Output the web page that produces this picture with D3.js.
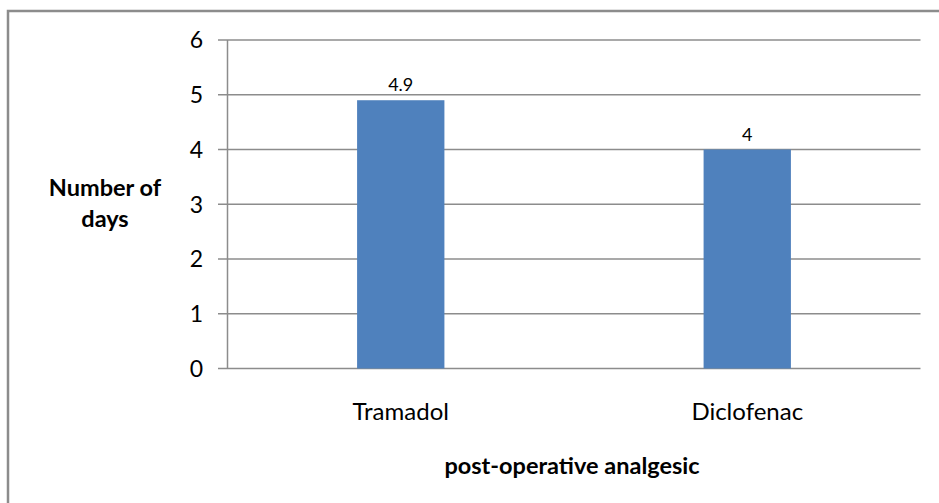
<!DOCTYPE html>
<html>
<head>
<meta charset="utf-8">
<script src="https://cdn.jsdelivr.net/npm/d3@7"></script>
<style>
  body { margin: 0; background: #fff; }
  text { font-family: Lato, "Open Sans", sans-serif; fill: #000; }
</style>
</head>
<body>
<script>
var categories = ['Tramadol', 'Diclofenac'];
var values = [4.9, 4];
var yTicks = [0, 1, 2, 3, 4, 5, 6];

var width = 939, height = 503;
var svg = d3.select('body').append('svg')
    .attr('width', width)
    .attr('height', height);

// outer frame, only top and left edges fall inside the picture
svg.append('path')
    .attr('d', 'M8,503 V11 H939')
    .attr('fill', 'none')
    .attr('stroke', '#8c8c8c')
    .attr('stroke-width', 2.5);

var x = d3.scaleBand()
    .domain(categories)
    .range([227.5, 920.5])
    .paddingInner(0.748)
    .paddingOuter(0.374);

var y = d3.scaleLinear()
    .domain([0, 6])
    .range([368.5, 40]);

// gridlines (with the little tick stubs on the left)
svg.append('g')
    .selectAll('line')
    .data(yTicks)
    .enter()
        .append('line')
        .attr('x1', 218)
        .attr('x2', 920.5)
        .attr('y1', function(d) { return y(d); })
        .attr('y2', function(d) { return y(d); })
        .attr('stroke', '#8c8c8c')
        .attr('stroke-width', 1.5);

// bars
svg.append('g')
    .selectAll('rect')
    .data(values)
    .enter()
        .append('rect')
        .attr('x', function(d, i) { return x(categories[i]); })
        .attr('width', x.bandwidth())
        .attr('y', function(d) { return y(d); })
        .attr('height', function(d) { return y(0) - y(d); })
        .attr('fill', '#4f81bd');

// y axis line
svg.append('line')
    .attr('x1', 227.5).attr('x2', 227.5)
    .attr('y1', 40).attr('y2', 368.5)
    .attr('stroke', '#8c8c8c')
    .attr('stroke-width', 1.5);

// y tick labels
svg.append('g')
    .selectAll('text')
    .data(yTicks)
    .enter()
        .append('text')
        .attr('x', 203)
        .attr('y', function(d) { return y(d); })
        .attr('dy', '0.36em')
        .attr('text-anchor', 'end')
        .attr('font-size', 23)
        .text(function(d) { return d; });

// value labels
svg.append('g')
    .selectAll('text')
    .data(values)
    .enter()
        .append('text')
        .attr('x', function(d, i) { return x(categories[i]) + x.bandwidth() / 2; })
        .attr('y', function(d) { return y(d) - 9; })
        .attr('text-anchor', 'middle')
        .attr('font-size', 18)
        .text(function(d) { return d; });

// category labels
svg.append('g')
    .selectAll('text')
    .data(categories)
    .enter()
        .append('text')
        .attr('x', function(d) { return x(d) + x.bandwidth() / 2; })
        .attr('y', 420)
        .attr('text-anchor', 'middle')
        .attr('font-size', 24)
        .text(function(d) { return d; });

// axis titles
svg.append('text')
    .attr('x', 572)
    .attr('y', 474)
    .attr('text-anchor', 'middle')
    .attr('font-size', 23.5)
    .attr('font-weight', 'bold')
    .text('post-operative analgesic');

var yTitle = svg.append('text')
    .attr('text-anchor', 'middle')
    .attr('font-size', 23.5)
    .attr('font-weight', 'bold');
yTitle.append('tspan').attr('x', 105).attr('y', 196).text('Number of');
yTitle.append('tspan').attr('x', 105).attr('y', 227).text('days');
</script>
</body>
</html>
